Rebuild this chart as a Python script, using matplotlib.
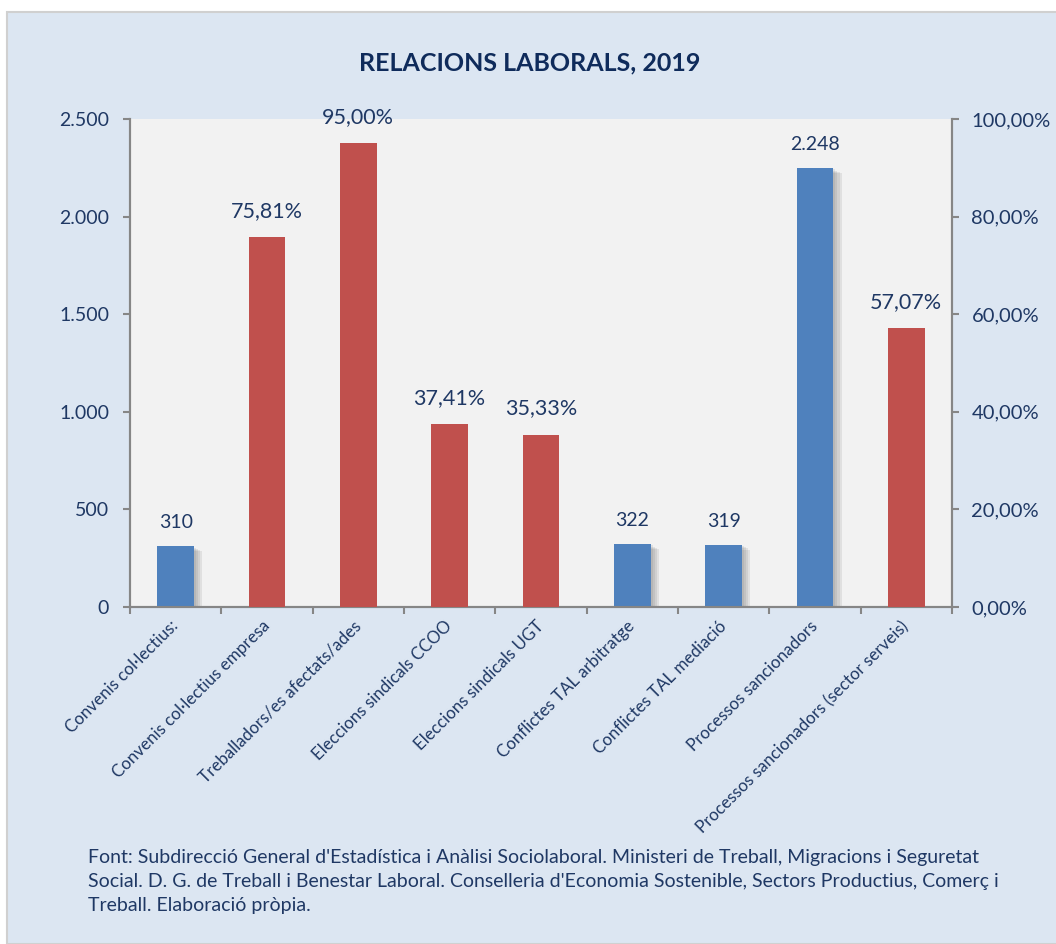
import matplotlib
matplotlib.use('Agg')
import matplotlib.pyplot as plt
import matplotlib.patches as patches
import matplotlib.patheffects as pe
import matplotlib.transforms as mtransforms
import numpy as np

plt.rcParams['font.family'] = ['Lato', 'DejaVu Sans']

categories = ['Convenis col·lectius:', 'Convenis col·lectius empresa',
              'Treballadors/es afectats/ades', 'Eleccions sindicals CCOO',
              'Eleccions sindicals UGT', 'Conflictes TAL arbitratge',
              'Conflictes TAL mediació', 'Processos sancionadors',
              'Processos sancionadors (sector serveis)']
# blue series -> left axis (counts), red series -> right axis (percent)
count_idx = [0, 5, 6, 7]
count_vals = [310, 322, 319, 2248]
pct_idx = [1, 2, 3, 4, 8]
pct_vals = [75.81, 95.00, 37.41, 35.33, 57.07]
left_ticks = [0, 500, 1000, 1500, 2000, 2500]
right_ticks = [0, 20, 40, 60, 80, 100]

navy = '#1F3864'
blue = '#4F81BD'
red = '#C0504D'

fig = plt.figure(figsize=(10.56, 9.44), dpi=100)
fig.patch.set_facecolor('white')
fig.patches.append(patches.Rectangle((7 / 1056, 0), 1, 1 - 12 / 944, transform=fig.transFigure,
                                     facecolor='#DCE6F2', edgecolor='#D0D0D0', lw=1.5, zorder=-10))

ax = fig.add_axes([130 / 1056, 1 - 607 / 944, (952 - 130) / 1056, (607 - 119) / 944])
ax.set_facecolor('#F2F2F2')
ax2 = ax.twinx()

x = np.arange(len(categories))
w = 0.4

# soft shadow for the blue bars (several faint layers)
shadow = [pe.SimplePatchShadow(offset=(d, -d * 0.6), shadow_rgbFace='#606060', alpha=0.12)
          for d in (1.5, 3, 4.5, 6)] + [pe.Normal()]
bars = ax.bar(x[count_idx], count_vals, w, color=blue, zorder=3)
for b in bars:
    b.set_path_effects(shadow)
ax2.bar(x[pct_idx], pct_vals, w, color=red, zorder=3)

for xi, v in zip(x[count_idx], count_vals):
    s = f'{v:,}'.replace(',', '.')
    ax.annotate(s, (xi, v), xytext=(0, 17), textcoords='offset points',
                ha='center', va='center', fontsize=14, color=navy)
for xi, v in zip(x[pct_idx], pct_vals):
    s = f'{v:.2f}%'.replace('.', ',')
    ax2.annotate(s, (xi, v), xytext=(0, 19), textcoords='offset points',
                 ha='center', va='center', fontsize=15.5, color=navy)

ax.set_xlim(-0.5, len(categories) - 0.5)
ax.set_ylim(0, 2500)
ax2.set_ylim(0, 100)
ax.set_yticks(left_ticks)
ax.set_yticklabels([f'{t:,}'.replace(',', '.') for t in left_ticks], fontsize=14, color=navy)
ax2.set_yticks(right_ticks)
ax2.set_yticklabels([f'{t:.2f}%'.replace('.', ',') for t in right_ticks], fontsize=14.5, color=navy)

ax.set_xticks(x)
ax.set_xticklabels(categories, rotation=45, ha='right', va='center',
                   rotation_mode='anchor', fontsize=12.2, color=navy)
shift = mtransforms.ScaledTranslation(-6 / 100, -3 / 100, fig.dpi_scale_trans)
for lbl in ax.get_xticklabels():
    lbl.set_transform(lbl.get_transform() + shift)
ax.tick_params(axis='x', which='major', length=0, pad=12)
ax.set_xticks(np.arange(-0.5, len(categories)), minor=True)
ax.tick_params(axis='x', which='minor', length=5, width=1.5, color='#868686')
ax.tick_params(axis='y', length=5, width=1.5, color='#868686', pad=10)
ax2.tick_params(axis='y', length=5, width=1.5, color='#868686', pad=9)

for a in (ax, ax2):
    a.spines['top'].set_visible(False)
    for s in ('left', 'right', 'bottom'):
        a.spines[s].set_color('#868686')
        a.spines[s].set_linewidth(1.5)
ax2.patch.set_visible(False)

fig.text(530 / 1056, 1 - 63 / 944, 'RELACIONS LABORALS, 2019', ha='center', va='center',
         fontsize=18, fontweight='bold', color='#0F2B5B')

foot = ("Font: Subdirecció General d'Estadística i Anàlisi Sociolaboral. Ministeri de Treball, Migracions i Seguretat\n"
        "Social. D. G. de Treball i Benestar Laboral. Conselleria d'Economia Sostenible, Sectors Productius, Comerç i\n"
        "Treball. Elaboració pròpia.")
fig.text(88 / 1056, 1 - 849 / 944, foot, ha='left', va='top', fontsize=14, color=navy, linespacing=1.5)

fig.savefig('out.png', dpi=100, facecolor=fig.get_facecolor())
